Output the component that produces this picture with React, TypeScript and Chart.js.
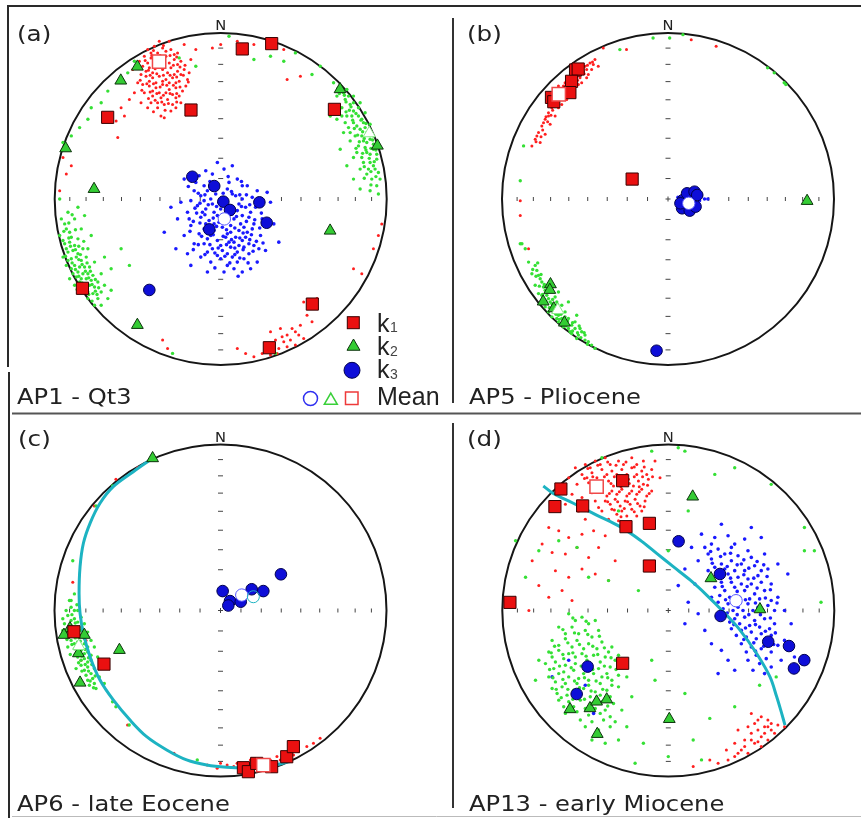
import React, { useEffect, useRef } from 'react';
import { Chart, registerables } from 'chart.js';
Chart.register(...registerables);

type Pt = [number, number];

const W = 861;
const H = 818;

// ---- equal-area net tick plunges (degrees) ----
const PLUNGE_TICKS = [80, 70, 60, 50, 40, 30, 20, 10];

// ---------------- Panel (a) AP1 - Qt3 ----------------
const aK1: Pt[] = [[0.13, 0.904], [0.307, 0.936], [-0.179, 0.536], [-0.681, 0.492], [0.685, 0.54], [-0.833, -0.538], [0.552, -0.633], [0.293, -0.896]];
const aK2: Pt[] = [[-0.502, 0.797], [-0.602, 0.713], [-0.934, 0.305], [-0.763, 0.06], [0.719, 0.661], [0.944, 0.321], [0.659, -0.191], [-0.502, -0.759]];
const aK3: Pt[] = [[-0.171, 0.134], [-0.039, 0.078], [0.016, -0.016], [0.056, -0.066], [0.233, -0.02], [0.277, -0.143], [-0.069, -0.183], [-0.43, -0.548]];
const aMean1: Pt[] = [[-0.371, 0.827]];
const aMean2: Pt[] = [[0.895, 0.396]];
const aMean3: Pt[] = [[0.022, -0.12]];
const aBlueDots: Pt[] = [
  [-0.12, 0.02], [-0.08, 0.05], [-0.03, 0.03], [0.04, 0.06], [0.09, 0.02], [0.13, 0.0],
  [-0.14, -0.04], [-0.09, -0.06], [-0.05, -0.03], [0.0, -0.06], [0.05, -0.04], [0.1, -0.07], [0.15, -0.05],
  [-0.12, -0.11], [-0.07, -0.13], [-0.02, -0.1], [0.03, -0.14], [0.08, -0.12], [0.12, -0.15], [0.17, -0.11],
  [-0.1, -0.18], [-0.04, -0.19], [0.01, -0.17], [0.06, -0.2], [0.11, -0.19], [0.16, -0.2],
  [-0.08, -0.24], [-0.02, -0.25], [0.03, -0.23], [0.08, -0.26], [0.13, -0.25],
  [-0.05, -0.3], [0.01, -0.31], [0.06, -0.29], [0.1, -0.32],
  [-0.22, 0.12], [-0.15, 0.1], [-0.05, 0.15], [0.02, 0.18], [0.1, 0.12], [0.16, 0.08], [0.22, 0.05], [0.28, 0.04],
  [-0.24, -0.02], [-0.2, -0.08], [-0.26, -0.12], [-0.18, -0.16], [-0.22, -0.22], [-0.16, -0.27], [-0.27, -0.3],
  [0.2, -0.15], [0.24, -0.22], [0.2, -0.28], [0.27, -0.31], [0.17, -0.33], [0.22, -0.38],
  [-0.12, -0.35], [-0.06, -0.38], [0.0, -0.36], [0.04, -0.4], [0.1, -0.38], [-0.18, -0.4], [0.13, -0.44],
  [-0.3, -0.05], [0.3, -0.02], [0.32, -0.15], [-0.34, -0.2], [0.35, -0.26], [-0.02, 0.22], [0.07, 0.2],
  [-0.1, 0.08], [0.05, 0.1], [-0.01, -0.02], [0.07, -0.09], [-0.04, -0.15], [0.14, -0.29], [0.04, -0.33],
  [-0.1, -0.01], [-0.06, 0.0], [0.02, 0.0], [0.07, 0.03], [0.11, -0.03], [-0.11, -0.08], [-0.04, -0.08], [0.03, -0.09],
  [0.13, -0.1], [0.18, -0.08], [-0.09, -0.15], [-0.01, -0.14], [0.06, -0.16], [0.14, -0.17], [0.19, -0.18], [-0.13, -0.21],
  [-0.06, -0.22], [0.04, -0.21], [0.09, -0.23], [0.15, -0.23], [-0.1, -0.27], [0.0, -0.28], [0.05, -0.26], [0.11, -0.28],
  [0.17, -0.27], [-0.08, -0.32], [-0.02, -0.34], [0.07, -0.35], [0.14, -0.36], [-0.16, 0.05], [-0.18, -0.01], [-0.19, -0.12],
  [0.21, -0.05], [0.25, -0.12], [0.23, -0.3], [-0.13, 0.14], [-0.09, 0.17], [0.13, 0.08], [0.19, 0.01], [-0.2, -0.33],
  [0.02, -0.44], [0.08, -0.42], [-0.08, -0.44], [0.18, -0.42]
];
const aBlueCore: Pt[] = [
  [-0.135, 0.035], [-0.095, 0.025], [-0.045, 0.055], [0.015, 0.035], [0.065, 0.045], [0.115, 0.025], [0.155, 0.025],
  [-0.125, -0.025], [-0.075, -0.035], [-0.025, -0.045], [0.025, -0.025], [0.075, -0.055], [0.125, -0.045], [0.175, -0.035],
  [-0.145, -0.085], [-0.095, -0.095], [-0.045, -0.115], [0.015, -0.115], [0.055, -0.095], [0.095, -0.105], [0.155, -0.135], [0.205, -0.125],
  [-0.125, -0.145], [-0.075, -0.165], [-0.025, -0.165], [0.035, -0.185], [0.085, -0.175], [0.135, -0.205], [0.185, -0.215],
  [-0.115, -0.225], [-0.045, -0.215], [0.015, -0.225], [0.065, -0.245], [0.115, -0.235], [0.175, -0.245], [0.215, -0.255],
  [-0.135, -0.275], [-0.065, -0.275], [-0.015, -0.295], [0.035, -0.275], [0.085, -0.295], [0.135, -0.305], [0.195, -0.315],
  [-0.095, -0.335], [-0.035, -0.325], [0.025, -0.345], [0.085, -0.335], [0.115, -0.355], [0.165, -0.385],
  [-0.155, -0.055], [-0.165, -0.135], [-0.185, -0.195], [-0.165, -0.305], [0.235, -0.175], [0.255, -0.265], [0.245, -0.085],
  [-0.065, 0.105], [0.045, 0.135], [-0.195, 0.075], [0.125, 0.105], [0.055, -0.385], [-0.035, -0.415], [0.105, -0.465]
];
const aRedDots: Pt[] = [
  [-0.44, 0.9], [-0.4, 0.92], [-0.35, 0.91], [-0.3, 0.9], [-0.26, 0.88],
  [-0.46, 0.86], [-0.42, 0.85], [-0.33, 0.86], [-0.28, 0.84], [-0.24, 0.83],
  [-0.47, 0.8], [-0.43, 0.79], [-0.39, 0.8], [-0.35, 0.78], [-0.3, 0.79], [-0.26, 0.77], [-0.22, 0.78],
  [-0.45, 0.74], [-0.41, 0.73], [-0.37, 0.74], [-0.33, 0.72], [-0.29, 0.73], [-0.25, 0.71],
  [-0.43, 0.68], [-0.39, 0.67], [-0.35, 0.69], [-0.31, 0.66], [-0.27, 0.67], [-0.23, 0.65],
  [-0.41, 0.62], [-0.36, 0.61], [-0.32, 0.6], [-0.27, 0.61], [-0.24, 0.58],
  [-0.48, 0.58], [-0.44, 0.55], [-0.38, 0.55], [-0.3, 0.53], [-0.34, 0.49],
  [-0.5, 0.7], [-0.52, 0.64], [-0.55, 0.6], [-0.2, 0.72], [-0.18, 0.84], [-0.15, 0.9], [-0.22, 0.93],
  [-0.37, 0.95], [-0.31, 0.95], [-0.49, 0.83], [-0.53, 0.78],
  [-0.42, 0.88], [-0.38, 0.88], [-0.33, 0.89], [-0.28, 0.87], [-0.44, 0.82], [-0.4, 0.82], [-0.37, 0.83], [-0.31, 0.82],
  [-0.26, 0.81], [-0.45, 0.77], [-0.41, 0.76], [-0.32, 0.76], [-0.28, 0.75], [-0.24, 0.75], [-0.43, 0.71], [-0.39, 0.7],
  [-0.35, 0.71], [-0.31, 0.7], [-0.27, 0.7], [-0.41, 0.65], [-0.37, 0.64], [-0.33, 0.64], [-0.29, 0.63], [-0.25, 0.62],
  [-0.38, 0.58], [-0.34, 0.57], [-0.29, 0.57], [-0.46, 0.64], [-0.47, 0.69], [-0.21, 0.68], [-0.19, 0.76], [-0.42, 0.58],
  [-0.36, 0.5], [-0.27, 0.55], [-0.48, 0.75],
  [-0.6, 0.55], [-0.63, 0.47], [-0.58, 0.5], [-0.95, 0.25], [-0.93, 0.15], [-0.97, 0.05], [-0.9, 0.2], [-0.62, 0.37],
  [-0.05, 0.91], [0.0, 0.93], [0.1, 0.95], [0.2, 0.93], [0.4, 0.72], [0.48, 0.74], [0.38, 0.9],
  [0.97, -0.15], [0.95, -0.22], [0.92, -0.3], [0.85, -0.45], [0.8, -0.42], [-0.35, -0.85], [-0.32, -0.9],
  [0.3, -0.8], [0.36, -0.78], [0.4, -0.82], [0.45, -0.8], [0.33, -0.85], [0.38, -0.86], [0.42, -0.85], [0.48, -0.76],
  [0.28, -0.88], [0.35, -0.9], [0.4, -0.89], [0.25, -0.93], [0.3, -0.94], [0.2, -0.95], [0.15, -0.93], [0.1, -0.9],
  [0.52, -0.7], [0.55, -0.66], [0.55, -0.74], [0.5, -0.62], [0.58, -0.6], [0.45, -0.88], [0.5, -0.84],
  [0.32, -0.9], [0.37, -0.83], [0.43, -0.78], [0.27, -0.91], [0.34, -0.93], [0.47, -0.82]
];
const aRedCore: Pt[] = [
  [-0.455, 0.835], [-0.415, 0.865], [-0.365, 0.865], [-0.305, 0.865], [-0.265, 0.855], [-0.435, 0.775], [-0.395, 0.785], [-0.345, 0.805],
  [-0.285, 0.805], [-0.245, 0.795], [-0.425, 0.745], [-0.385, 0.755], [-0.345, 0.745], [-0.305, 0.745], [-0.265, 0.735], [-0.225, 0.745],
  [-0.445, 0.695], [-0.405, 0.695], [-0.365, 0.675], [-0.325, 0.685], [-0.285, 0.685], [-0.245, 0.675], [-0.425, 0.645], [-0.385, 0.635],
  [-0.345, 0.625], [-0.305, 0.635], [-0.265, 0.635], [-0.395, 0.595], [-0.355, 0.585], [-0.315, 0.575], [-0.265, 0.585], [-0.435, 0.605],
  [-0.335, 0.535], [-0.405, 0.525], [-0.475, 0.655], [-0.485, 0.715], [-0.215, 0.805], [-0.195, 0.705], [-0.345, 0.925], [-0.405, 0.895]
];
const aGreenDots: Pt[] = [
  [0.68, 0.7], [0.72, 0.66], [0.7, 0.62], [0.75, 0.6], [0.78, 0.57], [0.73, 0.55], [0.8, 0.53], [0.76, 0.5], [0.83, 0.5],
  [0.86, 0.46], [0.8, 0.46], [0.77, 0.43], [0.84, 0.42], [0.88, 0.4], [0.81, 0.38], [0.9, 0.36], [0.86, 0.35], [0.83, 0.32],
  [0.92, 0.3], [0.88, 0.28], [0.85, 0.25], [0.9, 0.22], [0.94, 0.24], [0.93, 0.18], [0.88, 0.15], [0.96, 0.12],
  [0.82, 0.28], [0.78, 0.35], [0.74, 0.4], [0.7, 0.48], [0.66, 0.5], [0.72, 0.3], [0.76, 0.2], [0.8, 0.12], [0.84, 0.06], [0.9, 0.05], [0.95, 0.03],
  [0.87, 0.52], [0.9, 0.45], [0.92, 0.38],
  [0.74, 0.64], [0.77, 0.62], [0.8, 0.58], [0.83, 0.55], [0.79, 0.5], [0.85, 0.48], [0.82, 0.44], [0.87, 0.43], [0.9, 0.41],
  [0.85, 0.38], [0.88, 0.34], [0.92, 0.33], [0.87, 0.31], [0.9, 0.27], [0.94, 0.27], [0.86, 0.22], [0.92, 0.2], [0.89, 0.18],
  [0.95, 0.16], [0.91, 0.12], [0.94, 0.08], [0.78, 0.4], [0.75, 0.46], [0.73, 0.5], [0.84, 0.58], [0.8, 0.62], [0.76, 0.66],
  [0.84, 0.18], [0.8, 0.25],
  [-0.96, -0.12], [-0.93, -0.18], [-0.97, -0.22], [-0.9, -0.23], [-0.94, -0.27], [-0.88, -0.28], [-0.92, -0.32],
  [-0.86, -0.33], [-0.9, -0.36], [-0.84, -0.37], [-0.88, -0.4], [-0.82, -0.41], [-0.86, -0.44], [-0.8, -0.45],
  [-0.84, -0.48], [-0.78, -0.49], [-0.82, -0.52], [-0.76, -0.53], [-0.8, -0.56],
  [-0.95, -0.35], [-0.93, -0.4], [-0.89, -0.45], [-0.85, -0.53],
  [-0.8, -0.3], [-0.76, -0.38], [-0.72, -0.45], [-0.7, -0.52], [-0.66, -0.55], [-0.68, -0.6], [-0.74, -0.6],
  [-0.78, -0.22], [-0.84, -0.18], [-0.88, -0.12], [-0.92, -0.08], [-0.97, 0.0], [-0.86, -0.05], [-0.82, -0.1],
  [-0.7, -0.35], [-0.66, -0.42],
  [-0.94, -0.15], [-0.91, -0.2], [-0.95, -0.25], [-0.91, -0.26], [-0.89, -0.31], [-0.93, -0.3], [-0.87, -0.35], [-0.92, -0.37],
  [-0.85, -0.41], [-0.9, -0.42], [-0.83, -0.45], [-0.87, -0.47], [-0.81, -0.48], [-0.85, -0.5], [-0.79, -0.52], [-0.83, -0.55],
  [-0.77, -0.57], [-0.86, -0.24], [-0.83, -0.3], [-0.81, -0.35], [-0.79, -0.41], [-0.77, -0.46], [-0.74, -0.5], [-0.72, -0.56],
  [-0.91, -0.48], [-0.88, -0.52], [-0.8, -0.6], [-0.76, -0.64], [-0.72, -0.64],
  [-0.95, 0.34], [-0.9, 0.38], [-0.85, 0.43], [-0.8, 0.48], [-0.78, 0.55], [-0.72, 0.58], [-0.68, 0.65], [-0.56, 0.76], [-0.52, 0.83],
  [-0.25, 0.85], [-0.15, 0.8], [0.05, 0.98], [0.2, 0.84], [0.3, 0.86], [0.38, 0.83], [0.45, 0.88], [0.55, 0.75], [0.6, 0.8],
  [-0.29, -0.93], [0.33, -0.93], [-0.6, -0.3], [-0.55, -0.4]
];
const aGreenCore: Pt[] = [
  [0.715, 0.635], [0.755, 0.585], [0.775, 0.535], [0.815, 0.515], [0.845, 0.475], [0.805, 0.425], [0.855, 0.405], [0.865, 0.365],
  [0.895, 0.385], [0.835, 0.345], [0.875, 0.295], [0.905, 0.305], [0.855, 0.275], [0.895, 0.245], [0.925, 0.225], [0.865, 0.195],
  [0.905, 0.165], [0.935, 0.135], [0.865, 0.125], [0.905, 0.085], [0.795, 0.475], [0.755, 0.525], [0.825, 0.385], [0.815, 0.305],
  [0.785, 0.555], [0.745, 0.625], [0.705, 0.665], [0.875, 0.455], [0.915, 0.355], [0.935, 0.295],
  [-0.945, -0.195], [-0.915, -0.235], [-0.905, -0.285], [-0.935, -0.345], [-0.875, -0.305], [-0.895, -0.385], [-0.855, -0.365],
  [-0.875, -0.425], [-0.835, -0.395], [-0.855, -0.465], [-0.815, -0.435], [-0.835, -0.505], [-0.795, -0.475], [-0.815, -0.535],
  [-0.775, -0.515], [-0.795, -0.575], [-0.755, -0.555], [-0.855, -0.285], [-0.825, -0.255], [-0.845, -0.335], [-0.805, -0.385],
  [-0.785, -0.435], [-0.755, -0.485], [-0.735, -0.535], [-0.915, -0.145], [-0.895, -0.095], [-0.865, -0.545], [-0.775, -0.615],
  [-0.745, -0.575], [-0.875, -0.185]
];

// ---------------- Panel (b) AP5 - Pliocene ----------------
const bK1: Pt[] = [[-0.557, 0.777], [-0.541, 0.783], [-0.581, 0.709], [-0.591, 0.641], [-0.702, 0.612], [-0.688, 0.586], [-0.216, 0.12]];
const bK2: Pt[] = [[-0.708, -0.514], [-0.712, -0.548], [-0.752, -0.618], [-0.688, -0.659], [-0.624, -0.745], [0.838, -0.012]];
const bK3: Pt[] = [[0.091, -0.006], [0.115, 0.034], [0.16, 0.044], [0.176, 0.024], [0.085, -0.056], [0.131, -0.07], [0.166, -0.046], [0.075, -0.026], [-0.069, -0.914]];
const bMean1: Pt[] = [[-0.658, 0.631]];
const bMean2: Pt[] = [[-0.664, -0.669]];
const bMean3: Pt[] = [[0.125, -0.026]];
const bRedDots: Pt[] = [
  [-0.44, 0.84], [-0.47, 0.82], [-0.5, 0.8], [-0.46, 0.78], [-0.52, 0.76], [-0.55, 0.74], [-0.49, 0.73], [-0.58, 0.71],
  [-0.54, 0.69], [-0.6, 0.67], [-0.63, 0.66], [-0.57, 0.65], [-0.65, 0.62], [-0.61, 0.6], [-0.68, 0.58], [-0.7, 0.55],
  [-0.66, 0.55], [-0.72, 0.52], [-0.68, 0.5], [-0.74, 0.48], [-0.71, 0.45], [-0.76, 0.44], [-0.78, 0.4], [-0.74, 0.39],
  [-0.8, 0.36], [-0.77, 0.34], [-0.82, 0.32], [-0.62, 0.7], [-0.66, 0.68], [-0.7, 0.63], [-0.73, 0.6], [-0.56, 0.78],
  [-0.52, 0.7], [-0.48, 0.75], [-0.42, 0.8], [-0.64, 0.57], [-0.6, 0.63],
  [-0.45, 0.81], [-0.49, 0.78], [-0.53, 0.73], [-0.56, 0.71], [-0.59, 0.69], [-0.62, 0.63], [-0.66, 0.6], [-0.69, 0.56],
  [-0.72, 0.5], [-0.75, 0.46], [-0.63, 0.68], [-0.67, 0.64], [-0.58, 0.67], [-0.51, 0.77], [-0.79, 0.38],
  [-0.455, 0.825], [-0.485, 0.805], [-0.515, 0.785], [-0.505, 0.755], [-0.535, 0.745], [-0.545, 0.715], [-0.575, 0.685],
  [-0.605, 0.655], [-0.625, 0.645], [-0.645, 0.605], [-0.675, 0.585], [-0.695, 0.535], [-0.705, 0.505], [-0.735, 0.495],
  [-0.725, 0.465], [-0.755, 0.415], [-0.765, 0.375], [-0.795, 0.345], [-0.615, 0.685], [-0.565, 0.755],
  [-0.89, -0.01], [-0.89, -0.1], [-0.39, 0.91], [-0.25, 0.9], [0.14, 0.96], [0.29, 0.92], [-0.84, -0.3]
];
const bGreenDots: Pt[] = [
  [-0.8, -0.4], [-0.82, -0.45], [-0.78, -0.46], [-0.76, -0.5], [-0.8, -0.52], [-0.74, -0.55], [-0.78, -0.57], [-0.72, -0.6],
  [-0.76, -0.61], [-0.7, -0.63], [-0.74, -0.65], [-0.68, -0.66], [-0.72, -0.68], [-0.66, -0.7], [-0.7, -0.71], [-0.64, -0.72],
  [-0.62, -0.75], [-0.66, -0.74], [-0.6, -0.78], [-0.56, -0.78], [-0.58, -0.81], [-0.54, -0.82], [-0.5, -0.85], [-0.46, -0.88],
  [-0.64, -0.64], [-0.68, -0.59], [-0.62, -0.68], [-0.6, -0.72], [-0.56, -0.74], [-0.52, -0.8], [-0.66, -0.56], [-0.7, -0.53],
  [-0.84, -0.38], [-0.86, -0.3], [-0.88, -0.27], [-0.6, -0.62], [-0.55, -0.7],
  [-0.79, -0.43], [-0.77, -0.48], [-0.75, -0.53], [-0.73, -0.58], [-0.71, -0.62], [-0.69, -0.68], [-0.67, -0.72], [-0.63, -0.77],
  [-0.59, -0.8], [-0.55, -0.84], [-0.67, -0.62], [-0.65, -0.67], [-0.62, -0.71], [-0.58, -0.76], [-0.53, -0.78], [-0.5, -0.82],
  [-0.48, -0.86], [-0.44, -0.9], [-0.72, -0.55], [-0.76, -0.58],
  [-0.815, -0.425], [-0.795, -0.465], [-0.775, -0.525], [-0.755, -0.575], [-0.735, -0.615], [-0.715, -0.655], [-0.695, -0.645],
  [-0.675, -0.695], [-0.655, -0.725], [-0.635, -0.745], [-0.615, -0.765], [-0.575, -0.795], [-0.545, -0.805], [-0.525, -0.835],
  [-0.485, -0.875], [-0.695, -0.605], [-0.665, -0.635], [-0.645, -0.695], [-0.605, -0.735], [-0.575, -0.745], [-0.535, -0.765],
  [-0.505, -0.805], [-0.745, -0.515], [-0.765, -0.455], [-0.785, -0.385],
  [-0.09, 0.97], [0.01, 0.97], [0.09, 0.99], [0.6, 0.79], [0.64, 0.76], [0.7, 0.7], [0.71, 0.69],
  [-0.87, 0.32], [-0.89, 0.11], [-0.89, -0.27], [-0.29, 0.9]
];
const bBlueDots: Pt[] = [[0.22, 0.0], [0.24, 0.0], [0.2, 0.02], [0.06, 0.01], [0.19, -0.01]];

// ---------------- Panel (c) AP6 - late Eocene ----------------
const cK1: Pt[] = [[-0.883, -0.128], [-0.702, -0.323], [0.138, -0.947], [0.168, -0.971], [0.218, -0.921], [0.308, -0.941], [0.399, -0.881], [0.439, -0.82]];
const cK2: Pt[] = [[-0.409, 0.917], [-0.907, -0.107], [-0.943, -0.147], [-0.82, -0.147], [-0.856, -0.258], [-0.609, -0.238], [-0.846, -0.435]];
const cK3: Pt[] = [[0.013, 0.117], [0.057, 0.057], [0.047, 0.03], [0.122, 0.053], [0.188, 0.128], [0.258, 0.117], [0.364, 0.218]];
const cMean1: Pt[] = [[0.258, -0.931]];
const cMean2: Pt[] = [[-0.854, -0.214]];
const cMean3: Pt[] = [[0.128, 0.093]];
const cPole: Pt[] = [[0.198, 0.083]];
const cGreatCircle: Pt[] = [
  [-0.409, 0.917], [-0.525, 0.836], [-0.646, 0.746], [-0.726, 0.646], [-0.786, 0.525], [-0.826, 0.405],
  [-0.846, 0.264], [-0.852, 0.103], [-0.846, -0.017], [-0.826, -0.138], [-0.786, -0.278], [-0.726, -0.419],
  [-0.646, -0.539], [-0.545, -0.66], [-0.445, -0.76], [-0.324, -0.84], [-0.204, -0.9], [-0.083, -0.931],
  [0.037, -0.945], [0.158, -0.949], [0.278, -0.941], [0.419, -0.91]
];
const cGreenDots: Pt[] = [
  [-0.9, 0.02], [-0.86, 0.0], [-0.92, -0.03], [-0.88, -0.05], [-0.84, -0.04], [-0.94, -0.08], [-0.9, -0.09], [-0.86, -0.1],
  [-0.82, -0.08], [-0.92, -0.13], [-0.88, -0.14], [-0.84, -0.15], [-0.8, -0.13], [-0.9, -0.18], [-0.86, -0.19], [-0.82, -0.2],
  [-0.78, -0.18], [-0.88, -0.23], [-0.84, -0.24], [-0.8, -0.25], [-0.86, -0.28], [-0.82, -0.29], [-0.78, -0.3], [-0.84, -0.33],
  [-0.8, -0.34], [-0.76, -0.35], [-0.81, -0.39], [-0.77, -0.41], [-0.79, -0.45], [-0.75, -0.47], [-0.87, -0.35], [-0.95, -0.12],
  [-0.91, 0.06], [-0.88, 0.1], [-0.76, -0.22], [-0.74, -0.28], [-0.73, -0.4], [-0.7, -0.44],
  [-0.88, 0.0], [-0.9, -0.06], [-0.86, -0.07], [-0.88, -0.11], [-0.84, -0.12], [-0.9, -0.15], [-0.86, -0.16], [-0.82, -0.17],
  [-0.88, -0.2], [-0.84, -0.21], [-0.8, -0.22], [-0.86, -0.25], [-0.82, -0.26], [-0.78, -0.27], [-0.84, -0.3], [-0.8, -0.31],
  [-0.82, -0.36], [-0.78, -0.38], [-0.8, -0.42], [-0.76, -0.44], [-0.92, -0.22], [-0.93, 0.0], [-0.95, -0.05],
  [-0.895, -0.025], [-0.875, -0.075], [-0.905, -0.115], [-0.865, -0.135], [-0.835, -0.105], [-0.875, -0.165], [-0.845, -0.185],
  [-0.815, -0.155], [-0.895, -0.205], [-0.855, -0.225], [-0.815, -0.235], [-0.875, -0.265], [-0.835, -0.275], [-0.795, -0.285],
  [-0.855, -0.315], [-0.815, -0.325], [-0.775, -0.325], [-0.835, -0.365], [-0.795, -0.365], [-0.755, -0.395], [-0.785, -0.425],
  [-0.765, -0.465], [-0.905, -0.265], [-0.925, -0.175], [-0.865, 0.035],
  [-0.89, 0.3], [-0.9, 0.06], [-0.75, 0.63], [-0.65, 0.75], [-0.63, -0.58], [-0.65, -0.55], [-0.55, -0.69], [-0.14, -0.9]
];
const cRedDots: Pt[] = [
  [0.04, -0.93], [0.08, -0.94], [0.12, -0.92], [0.16, -0.94], [0.2, -0.93], [0.24, -0.92], [0.28, -0.93], [0.32, -0.92],
  [0.36, -0.9], [0.4, -0.89], [0.44, -0.87], [0.47, -0.85], [0.52, -0.82], [0.56, -0.8], [0.6, -0.77], [0.26, -0.9],
  [0.18, -0.9], [0.34, -0.88], [0.0, -0.92], [-0.02, -0.95], [0.22, -0.95], [0.3, -0.9], [0.38, -0.87], [0.1, -0.92],
  [-0.89, 0.17], [-0.56, -0.69], [-0.28, -0.86], [-0.08, -0.93], [-0.63, 0.79], [-0.5, 0.86], [-0.76, 0.63], [-0.84, -0.3], [-0.81, -0.18]
];

// ---------------- Panel (d) AP13 - early Miocene ----------------
const dK1: Pt[] = [[-0.647, 0.732], [-0.683, 0.626], [-0.516, 0.63], [-0.275, 0.782], [-0.255, 0.505], [-0.114, 0.525], [-0.114, 0.268], [-0.954, 0.049], [-0.275, -0.318]];
const dK2: Pt[] = [[0.147, 0.686], [0.257, 0.194], [0.552, 0.007], [-0.592, -0.595], [-0.472, -0.589], [-0.432, -0.549], [-0.371, -0.536], [-0.428, -0.744], [0.006, -0.654]];
const dK3: Pt[] = [[0.062, 0.417], [0.311, 0.22], [0.315, -0.033], [0.602, -0.188], [0.727, -0.214], [0.819, -0.299], [0.757, -0.349], [-0.486, -0.338], [-0.552, -0.503]];
const dMean1: Pt[] = [[-0.432, 0.746]];
const dMean3: Pt[] = [[0.408, 0.059]];
const dGreatCircle: Pt[] = [
  [-0.753, 0.75], [-0.693, 0.705], [-0.572, 0.646], [-0.432, 0.575], [-0.291, 0.505], [-0.171, 0.425],
  [-0.07, 0.344], [0.03, 0.264], [0.131, 0.184], [0.231, 0.093], [0.331, -0.007], [0.432, -0.118],
  [0.532, -0.259], [0.612, -0.399], [0.653, -0.52], [0.683, -0.62], [0.703, -0.69]
];
const dRedDots: Pt[] = [
  [-0.5, 0.88], [-0.44, 0.9], [-0.38, 0.92], [-0.3, 0.9], [-0.22, 0.92], [-0.15, 0.9],
  [-0.52, 0.82], [-0.46, 0.83], [-0.4, 0.85], [-0.34, 0.84], [-0.28, 0.85], [-0.22, 0.86], [-0.16, 0.84], [-0.1, 0.85],
  [-0.55, 0.76], [-0.48, 0.77], [-0.36, 0.78], [-0.3, 0.79], [-0.24, 0.79], [-0.18, 0.78], [-0.12, 0.79],
  [-0.46, 0.71], [-0.4, 0.72], [-0.34, 0.72], [-0.28, 0.73], [-0.22, 0.72], [-0.16, 0.73], [-0.1, 0.72],
  [-0.44, 0.66], [-0.38, 0.66], [-0.32, 0.67], [-0.26, 0.66], [-0.2, 0.67], [-0.14, 0.66],
  [-0.4, 0.6], [-0.34, 0.61], [-0.28, 0.6], [-0.22, 0.61], [-0.16, 0.6],
  [-0.36, 0.55], [-0.3, 0.54], [-0.6, 0.8], [-0.58, 0.7], [-0.62, 0.64], [-0.54, 0.6], [-0.5, 0.55], [-0.08, 0.9], [-0.05, 0.8],
  [-0.47, 0.86], [-0.41, 0.88], [-0.35, 0.88], [-0.27, 0.88], [-0.19, 0.88], [-0.49, 0.8], [-0.43, 0.8], [-0.37, 0.82],
  [-0.31, 0.82], [-0.25, 0.82], [-0.19, 0.82], [-0.13, 0.82], [-0.33, 0.75], [-0.27, 0.76], [-0.21, 0.75], [-0.15, 0.76],
  [-0.43, 0.74], [-0.37, 0.69], [-0.31, 0.7], [-0.25, 0.69], [-0.19, 0.7], [-0.13, 0.69], [-0.35, 0.64], [-0.29, 0.63],
  [-0.23, 0.64], [-0.17, 0.63], [-0.31, 0.58], [-0.25, 0.57], [-0.19, 0.57], [-0.42, 0.62], [-0.48, 0.6], [-0.52, 0.68], [-0.56, 0.86],
  [-0.485, 0.855], [-0.425, 0.875], [-0.365, 0.895], [-0.315, 0.875], [-0.255, 0.895], [-0.205, 0.865], [-0.145, 0.865],
  [-0.505, 0.795], [-0.455, 0.805], [-0.385, 0.805], [-0.325, 0.805], [-0.265, 0.805], [-0.205, 0.805], [-0.155, 0.805],
  [-0.095, 0.805], [-0.345, 0.765], [-0.285, 0.745], [-0.235, 0.765], [-0.175, 0.745], [-0.125, 0.755], [-0.415, 0.745],
  [-0.355, 0.705], [-0.295, 0.715], [-0.235, 0.705], [-0.175, 0.715], [-0.115, 0.705], [-0.365, 0.655], [-0.305, 0.655],
  [-0.245, 0.655], [-0.185, 0.645], [-0.325, 0.605], [-0.265, 0.615], [-0.205, 0.595], [-0.145, 0.625], [-0.285, 0.565],
  [-0.72, 0.5], [-0.66, 0.48], [-0.6, 0.44], [-0.52, 0.46], [-0.45, 0.48], [-0.38, 0.45], [-0.76, 0.4], [-0.7, 0.35],
  [-0.62, 0.34], [-0.55, 0.38], [-0.48, 0.32], [-0.42, 0.38], [-0.68, 0.24], [-0.6, 0.2], [-0.52, 0.25], [-0.44, 0.22],
  [-0.36, 0.18], [-0.78, 0.15], [-0.72, 0.08], [-0.64, 0.12], [-0.58, 0.06], [-0.84, 0.0], [-0.32, 0.3], [-0.82, 0.3],
  [0.5, -0.62], [0.56, -0.64], [0.6, -0.66], [0.52, -0.68], [0.58, -0.7], [0.62, -0.72], [0.5, -0.74], [0.56, -0.76],
  [0.6, -0.78], [0.64, -0.74], [0.46, -0.78], [0.52, -0.8], [0.56, -0.82], [0.44, -0.84], [0.48, -0.86], [0.4, -0.88],
  [0.36, -0.9], [0.3, -0.92], [0.42, -0.72], [0.4, -0.8], [0.66, -0.69], [0.7, -0.7], [0.35, -0.84], [0.25, -0.9], [0.15, -0.94],
  [0.54, -0.66], [0.58, -0.74], [0.54, -0.72], [0.48, -0.7], [0.5, -0.78], [0.54, -0.79], [0.46, -0.82], [0.42, -0.86], [0.62, -0.68], [0.6, -0.7]
];
const dBlueDots: Pt[] = [
  [0.2, 0.46], [0.28, 0.44], [0.36, 0.45], [0.46, 0.43], [0.56, 0.44],
  [0.14, 0.38], [0.22, 0.38], [0.3, 0.37], [0.38, 0.38], [0.48, 0.36], [0.58, 0.34],
  [0.18, 0.3], [0.26, 0.31], [0.32, 0.28], [0.38, 0.3], [0.44, 0.28], [0.52, 0.27], [0.6, 0.25],
  [0.24, 0.24], [0.3, 0.2], [0.36, 0.22], [0.42, 0.2], [0.48, 0.19], [0.54, 0.21], [0.62, 0.16],
  [0.28, 0.14], [0.34, 0.12], [0.4, 0.14], [0.46, 0.12], [0.52, 0.1], [0.58, 0.12], [0.66, 0.08],
  [0.3, 0.05], [0.36, 0.04], [0.42, 0.02], [0.48, 0.04], [0.54, 0.02], [0.6, 0.03], [0.7, 0.0],
  [0.34, -0.03], [0.4, -0.05], [0.46, -0.04], [0.52, -0.06], [0.58, -0.05], [0.64, -0.08],
  [0.38, -0.11], [0.44, -0.12], [0.5, -0.13], [0.56, -0.14], [0.62, -0.15], [0.7, -0.18],
  [0.44, -0.2], [0.5, -0.22], [0.56, -0.23], [0.62, -0.25], [0.48, -0.3], [0.55, -0.32], [0.62, -0.34],
  [0.24, 0.34], [0.34, 0.34], [0.42, 0.33], [0.5, 0.32], [0.28, 0.26], [0.34, 0.25], [0.4, 0.24], [0.46, 0.24], [0.56, 0.24],
  [0.32, 0.17], [0.38, 0.17], [0.44, 0.16], [0.5, 0.16], [0.56, 0.17], [0.31, 0.09], [0.37, 0.08], [0.43, 0.08], [0.49, 0.07],
  [0.55, 0.07], [0.62, 0.06], [0.33, 0.01], [0.39, 0.0], [0.45, 0.0], [0.51, 0.0], [0.57, 0.0], [0.64, 0.0], [0.37, -0.07],
  [0.43, -0.08], [0.49, -0.09], [0.55, -0.1], [0.61, -0.11], [0.41, -0.15], [0.47, -0.16], [0.53, -0.17], [0.59, -0.19],
  [0.66, -0.21], [0.47, -0.25], [0.53, -0.27], [0.59, -0.29], [0.51, -0.36], [0.58, -0.38], [0.68, -0.3], [0.4, 0.4], [0.26, 0.4],
  [0.255, 0.355], [0.315, 0.325], [0.375, 0.345], [0.455, 0.305], [0.535, 0.295], [0.265, 0.285], [0.355, 0.265], [0.415, 0.275],
  [0.485, 0.255], [0.575, 0.275], [0.305, 0.225], [0.375, 0.195], [0.455, 0.215], [0.515, 0.195], [0.595, 0.205], [0.325, 0.145],
  [0.415, 0.115], [0.475, 0.145], [0.535, 0.135], [0.615, 0.125], [0.345, 0.065], [0.465, 0.065], [0.525, 0.045], [0.585, 0.075],
  [0.655, 0.045], [0.355, -0.015], [0.415, -0.025], [0.485, -0.025], [0.555, -0.025], [0.615, -0.045], [0.395, -0.085], [0.465, -0.105],
  [0.525, -0.085], [0.585, -0.125], [0.645, -0.135], [0.455, -0.175], [0.515, -0.195], [0.575, -0.215], [0.635, -0.205], [0.525, -0.245],
  [0.1, 0.25], [0.06, 0.15], [0.12, 0.05], [0.18, -0.02], [0.1, -0.08], [0.22, -0.12], [0.26, -0.2], [0.32, -0.24],
  [0.36, -0.3], [0.3, -0.38], [0.4, -0.36], [0.66, 0.28], [0.72, 0.22], [0.74, -0.08], [0.76, -0.28], [0.5, 0.5],
  [0.32, 0.52], [0.26, 0.08], [0.16, 0.16],
  [-0.6, -0.3], [-0.5, -0.45], [-0.7, -0.4], [-0.45, -0.62]
];
const dGreenDots: Pt[] = [
  [-0.6, -0.02], [-0.52, -0.04], [-0.44, -0.06], [-0.66, -0.1], [-0.58, -0.1], [-0.5, -0.12], [-0.42, -0.12],
  [-0.7, -0.18], [-0.62, -0.17], [-0.55, -0.18], [-0.48, -0.2], [-0.4, -0.19], [-0.34, -0.22],
  [-0.72, -0.25], [-0.66, -0.24], [-0.6, -0.26], [-0.52, -0.26], [-0.45, -0.27], [-0.38, -0.28], [-0.3, -0.27],
  [-0.74, -0.32], [-0.68, -0.31], [-0.62, -0.33], [-0.56, -0.32], [-0.48, -0.34], [-0.42, -0.35], [-0.35, -0.34], [-0.28, -0.33],
  [-0.72, -0.4], [-0.66, -0.38], [-0.6, -0.4], [-0.54, -0.41], [-0.48, -0.42], [-0.4, -0.4], [-0.34, -0.42],
  [-0.7, -0.47], [-0.64, -0.46], [-0.57, -0.48], [-0.51, -0.47], [-0.44, -0.49], [-0.37, -0.48], [-0.3, -0.46],
  [-0.66, -0.54], [-0.6, -0.55], [-0.53, -0.54], [-0.46, -0.56], [-0.4, -0.55], [-0.33, -0.56],
  [-0.62, -0.62], [-0.55, -0.61], [-0.48, -0.63], [-0.41, -0.62], [-0.35, -0.64], [-0.28, -0.6],
  [-0.5, -0.7], [-0.42, -0.72], [-0.35, -0.7], [-0.46, -0.78], [-0.38, -0.8],
  [-0.78, -0.3], [-0.8, -0.42], [-0.25, -0.4], [-0.22, -0.52], [-0.25, -0.7], [-0.3, -0.78],
  [-0.56, -0.06], [-0.48, -0.08], [-0.62, -0.14], [-0.54, -0.14], [-0.46, -0.16], [-0.66, -0.21], [-0.58, -0.22], [-0.51, -0.23],
  [-0.43, -0.23], [-0.36, -0.25], [-0.7, -0.28], [-0.63, -0.29], [-0.56, -0.28], [-0.49, -0.3], [-0.41, -0.31], [-0.32, -0.3],
  [-0.69, -0.35], [-0.63, -0.37], [-0.57, -0.36], [-0.51, -0.38], [-0.45, -0.38], [-0.37, -0.38], [-0.3, -0.39], [-0.68, -0.43],
  [-0.62, -0.44], [-0.55, -0.44], [-0.48, -0.45], [-0.41, -0.44], [-0.34, -0.45], [-0.67, -0.5], [-0.61, -0.51], [-0.54, -0.51],
  [-0.47, -0.52], [-0.41, -0.51], [-0.35, -0.52], [-0.63, -0.58], [-0.57, -0.58], [-0.5, -0.59], [-0.44, -0.59], [-0.38, -0.6],
  [-0.53, -0.66], [-0.46, -0.67], [-0.39, -0.66], [-0.32, -0.67],
  [-0.575, -0.045], [-0.495, -0.065], [-0.635, -0.115], [-0.565, -0.135], [-0.485, -0.145], [-0.415, -0.155], [-0.685, -0.215],
  [-0.605, -0.195], [-0.535, -0.205], [-0.455, -0.215], [-0.385, -0.225], [-0.705, -0.255], [-0.635, -0.265], [-0.575, -0.255],
  [-0.495, -0.275], [-0.425, -0.265], [-0.345, -0.285], [-0.715, -0.355], [-0.655, -0.335], [-0.585, -0.345], [-0.525, -0.335],
  [-0.455, -0.355], [-0.385, -0.335], [-0.315, -0.355], [-0.695, -0.405], [-0.635, -0.415], [-0.565, -0.425], [-0.505, -0.405],
  [-0.435, -0.425], [-0.365, -0.405], [-0.675, -0.475], [-0.605, -0.475], [-0.535, -0.465], [-0.465, -0.485], [-0.395, -0.475],
  [-0.645, -0.525], [-0.575, -0.535], [-0.505, -0.535], [-0.425, -0.535], [-0.365, -0.575],
  [0.06, 0.98], [0.1, 0.96], [-0.1, 0.96], [0.28, 0.82], [0.4, 0.86], [0.62, 0.76], [0.82, 0.5], [0.88, 0.36],
  [0.92, 0.05], [0.82, 0.36], [-0.92, 0.42], [-0.78, 0.36], [-0.66, 0.42], [-0.48, 0.2], [-0.36, 0.18], [-0.86, 0.2],
  [0.0, 0.36], [-0.18, 0.12], [-0.1, -0.3], [-0.08, -0.42], [0.1, -0.5], [0.25, -0.65], [0.4, -0.58], [0.55, -0.45],
  [0.65, -0.4], [0.78, -0.34], [-0.15, -0.8], [0.0, -0.88], [0.15, -0.78], [-0.2, -0.92], [0.2, -0.9], [-0.55, 0.38],
  [-0.3, 0.6], [0.12, 0.6], [-0.4, 0.92]
];

// ---------------- texts ----------------
const PANEL_LABELS = ['(a)', '(b)', '(c)', '(d)'];
const PANEL_TITLES = ['AP1 - Qt3', 'AP5 - Pliocene', 'AP6 - late Eocene', 'AP13 - early Miocene'];
const LEGEND_LABELS = ['k', 'k', 'k', 'Mean'];
const LEGEND_SUBS = ['1', '2', '3', ''];

// ---------------- styles ----------------
const DOT_RED = '#ff1f1f';
const DOT_GREEN = '#35e035';
const DOT_BLUE = '#1a1aff';
const SQ_FILL = '#ea1010';
const SQ_EDGE = '#3a0000';
const TRI_FILL = '#34cc34';
const TRI_EDGE = '#0c330c';
const CIR_FILL = '#0e0ed8';
const CIR_EDGE = '#000050';
const CYAN = '#1db3c2';
const LABEL_FONT = '"DejaVu Sans", Verdana, sans-serif';
const LEGEND_FONT = '"Liberation Sans", Arial, sans-serif';

interface PanelCfg {
  idx: number;
  cx: number;
  cy: number;
  labelX: number;
  labelY: number;
  titleX: number;
  titleY: number;
  k1: Pt[]; k2: Pt[]; k3: Pt[];
  m1?: Pt[]; m2?: Pt[]; m3?: Pt[];
  red: Pt[]; green: Pt[]; blue: Pt[];
  gc?: Pt[];
  pole?: Pt[];
  legend?: boolean;
  frame?: boolean;
}

const R = 166;

const PANELS: PanelCfg[] = [
  { idx: 0, cx: 220.7, cy: 199, labelX: 17, labelY: 40.5, titleX: 17, titleY: 403.5, k1: aK1, k2: aK2, k3: aK3, m1: aMean1, m2: aMean2, m3: aMean3, red: aRedDots.concat(aRedCore), green: aGreenDots.concat(aGreenCore), blue: aBlueDots.concat(aBlueCore), legend: true, frame: true },
  { idx: 1, cx: 668, cy: 199, labelX: 467, labelY: 40.5, titleX: 469, titleY: 404, k1: bK1, k2: bK2, k3: bK3, m1: bMean1, m2: bMean2, m3: bMean3, red: bRedDots, green: bGreenDots, blue: bBlueDots },
  { idx: 2, cx: 220.5, cy: 610.5, labelX: 18, labelY: 446, titleX: 17, titleY: 810.5, k1: cK1, k2: cK2, k3: cK3, m1: cMean1, m2: cMean2, m3: cMean3, red: cRedDots, green: cGreenDots, blue: [], gc: cGreatCircle, pole: cPole },
  { idx: 3, cx: 668.3, cy: 610.5, labelX: 467, labelY: 446, titleX: 469, titleY: 810.5, k1: dK1, k2: dK2, k3: dK3, m1: dMean1, m3: dMean3, red: dRedDots, green: dGreenDots, blue: dBlueDots, gc: dGreatCircle },
];

const toXY = (a: Pt[]) => a.map(([x, y]) => ({ x, y }));

function eqAreaRadius(plunge: number) {
  return Math.SQRT2 * Math.sin(((90 - plunge) / 2) * Math.PI / 180);
}

function stretchText(ctx: CanvasRenderingContext2D, text: string, x: number, y: number, font: string, sx: number, color: string, align: CanvasTextAlign = 'left') {
  ctx.save();
  ctx.font = font;
  ctx.fillStyle = color;
  ctx.textBaseline = 'alphabetic';
  ctx.textAlign = align;
  ctx.translate(x, y);
  ctx.scale(sx, 1);
  ctx.fillText(text, 0, 0);
  ctx.restore();
}

function seg(ctx: CanvasRenderingContext2D, x1: number, y1: number, x2: number, y2: number) {
  ctx.beginPath();
  ctx.moveTo(x1, y1);
  ctx.lineTo(x2, y2);
  ctx.stroke();
}

function triPath(ctx: CanvasRenderingContext2D, x: number, y: number, r: number) {
  ctx.beginPath();
  for (let i = 0; i < 3; i++) {
    const a = (i * 2 * Math.PI) / 3;
    const px = x + Math.sin(a) * r;
    const py = y - Math.cos(a) * r;
    if (i === 0) ctx.moveTo(px, py); else ctx.lineTo(px, py);
  }
  ctx.closePath();
}

function makePlugin(p: PanelCfg) {
  return {
    id: 'stereo' + p.idx,
    beforeDatasetsDraw(chart: any) {
      const ctx: CanvasRenderingContext2D = chart.ctx;
      const xs = chart.scales.x;
      const ys = chart.scales.y;
      const cx = xs.getPixelForValue(0);
      const cy = ys.getPixelForValue(0);
      const rad = xs.getPixelForValue(1) - cx;
      ctx.save();
      ctx.strokeStyle = '#444';
      ctx.lineWidth = 1;
      for (const pl of PLUNGE_TICKS) {
        const r = eqAreaRadius(pl) * rad;
        for (const s of [-1, 1]) {
          seg(ctx, cx + s * r, cy - 2, cx + s * r, cy + 2);
          seg(ctx, cx - 2.5, cy + s * r, cx + 2.5, cy + s * r);
        }
      }
      seg(ctx, cx - 2.5, cy, cx + 2.5, cy);
      seg(ctx, cx, cy - 2.5, cx, cy + 2.5);
      ctx.beginPath();
      ctx.arc(cx, cy, rad, 0, Math.PI * 2);
      ctx.lineWidth = 2;
      ctx.strokeStyle = '#161616';
      ctx.stroke();
      ctx.restore();
    },
    afterDraw(chart: any) {
      const ctx: CanvasRenderingContext2D = chart.ctx;
      const xs = chart.scales.x;
      const ys = chart.scales.y;
      const cx = xs.getPixelForValue(0);
      const top = ys.getPixelForValue(1);
      stretchText(ctx, 'N', cx, top - 3, `14px ${LABEL_FONT}`, 1.05, '#222', 'center');
      stretchText(ctx, PANEL_LABELS[p.idx], p.labelX, p.labelY, `22px ${LABEL_FONT}`, 1.12, '#222');
      stretchText(ctx, PANEL_TITLES[p.idx], p.titleX, p.titleY, `22px ${LABEL_FONT}`, 1.1, '#222');

      if (p.legend) {
        ctx.save();
        ctx.fillStyle = SQ_FILL; ctx.strokeStyle = SQ_EDGE; ctx.lineWidth = 1;
        ctx.fillRect(347.3, 316.7, 12, 12); ctx.strokeRect(347.3, 316.7, 12, 12);
        ctx.fillStyle = TRI_FILL; ctx.strokeStyle = TRI_EDGE;
        triPath(ctx, 353.5, 346.5, 7.5); ctx.fill(); ctx.stroke();
        ctx.fillStyle = CIR_FILL; ctx.strokeStyle = CIR_EDGE;
        ctx.beginPath(); ctx.arc(352, 370.3, 8, 0, Math.PI * 2); ctx.fill(); ctx.stroke();
        ctx.lineWidth = 1.5;
        ctx.strokeStyle = '#3030f0';
        ctx.beginPath(); ctx.arc(310.5, 398.5, 7, 0, Math.PI * 2); ctx.stroke();
        ctx.strokeStyle = '#3ad03a';
        triPath(ctx, 330.8, 400.5, 7.5); ctx.stroke();
        ctx.strokeStyle = '#ee3a3a';
        ctx.strokeRect(345.5, 392, 12.5, 12.5);
        ctx.restore();
        const ys2 = [331.7, 355, 378.3, 405];
        LEGEND_LABELS.forEach((t, i) => {
          ctx.save();
          ctx.font = `25px ${LEGEND_FONT}`;
          ctx.fillStyle = '#222';
          ctx.textBaseline = 'alphabetic';
          ctx.fillText(t, 377, ys2[i]);
          const w = ctx.measureText(t).width;
          if (LEGEND_SUBS[i]) {
            ctx.font = `14px ${LEGEND_FONT}`;
            ctx.fillStyle = '#444';
            ctx.fillText(LEGEND_SUBS[i], 377 + w + 0.5, ys2[i] + 0.5);
          }
          ctx.restore();
        });
      }

      if (p.frame) {
        ctx.save();
        ctx.strokeStyle = '#2a2a2a';
        ctx.lineWidth = 2;
        seg(ctx, 8, 6, W, 6);
        seg(ctx, 8, 5, 8, 367);
        seg(ctx, 9, 372, 9, H);
        ctx.strokeStyle = '#555';
        seg(ctx, 12, 413.5, W, 413.5);
        ctx.strokeStyle = '#333';
        seg(ctx, 453, 18, 453, 403);
        seg(ctx, 453, 423, 453, 808);
        ctx.strokeStyle = '#bbb';
        ctx.lineWidth = 1;
        seg(ctx, 12, 816.5, W, 816.5);
        ctx.restore();
      }
    },
  };
}

function buildConfig(p: PanelCfg): any {
  const dots = (pts: Pt[], color: string, r: number) => ({
    data: toXY(pts), showLine: false, pointRadius: r, pointBackgroundColor: color, pointBorderWidth: 0, order: 6, clip: false,
  });
  const datasets: any[] = [
    dots(p.green, DOT_GREEN, 1.7),
    dots(p.red, DOT_RED, 1.5),
    dots(p.blue, DOT_BLUE, 1.8),
  ];
  if (p.gc) {
    datasets.push({ data: toXY(p.gc), showLine: true, borderColor: CYAN, borderWidth: 3, pointRadius: 0, tension: 0.35, fill: false, order: 5, clip: false });
  }
  datasets.push({ data: toXY(p.k2), pointStyle: 'triangle', pointRadius: 6.8, pointBackgroundColor: TRI_FILL, pointBorderColor: TRI_EDGE, pointBorderWidth: 1, order: 4, clip: false });
  datasets.push({ data: toXY(p.k1), pointStyle: 'rect', pointRadius: 8.6, pointBackgroundColor: SQ_FILL, pointBorderColor: SQ_EDGE, pointBorderWidth: 1, order: 3, clip: false });
  datasets.push({ data: toXY(p.k3), pointStyle: 'circle', pointRadius: 5.8, pointBackgroundColor: CIR_FILL, pointBorderColor: CIR_EDGE, pointBorderWidth: 1, order: 2, clip: false });
  if (p.m2) datasets.push({ data: toXY(p.m2), pointStyle: 'triangle', pointRadius: 7, pointBackgroundColor: '#fff', pointBorderColor: '#8ee88e', pointBorderWidth: 1, order: 1, clip: false });
  if (p.m1) datasets.push({ data: toXY(p.m1), pointStyle: 'rect', pointRadius: 9.4, pointBackgroundColor: '#fff', pointBorderColor: '#f04848', pointBorderWidth: 1.5, order: 1, clip: false });
  if (p.m3) datasets.push({ data: toXY(p.m3), pointStyle: 'circle', pointRadius: 6.2, pointBackgroundColor: '#fff', pointBorderColor: '#5a5aff', pointBorderWidth: 1, order: 1, clip: false });
  if (p.pole) datasets.push({ data: toXY(p.pole), pointStyle: 'circle', pointRadius: 6, pointBackgroundColor: 'rgba(0,0,0,0)', pointBorderColor: CYAN, pointBorderWidth: 1, order: 0, clip: false });

  return {
    type: 'scatter',
    data: { datasets },
    options: {
      animation: false,
      responsive: false,
      devicePixelRatio: 1,
      events: [],
      layout: { padding: { left: p.cx - R, top: p.cy - R, right: W - p.cx - R, bottom: H - p.cy - R } },
      scales: {
        x: { type: 'linear', min: -1, max: 1, display: false },
        y: { type: 'linear', min: -1, max: 1, display: false },
      },
      plugins: { legend: { display: false }, tooltip: { enabled: false } },
    },
    plugins: [makePlugin(p)],
  };
}

export default function App() {
  const refs = useRef<(HTMLCanvasElement | null)[]>([]);
  useEffect(() => {
    const charts = PANELS.map((p, i) => new Chart(refs.current[i] as HTMLCanvasElement, buildConfig(p)));
    return () => charts.forEach((c) => c.destroy());
  }, []);
  return (
    <div style={{ position: 'absolute', left: 0, top: 0, width: W, height: H, background: '#fff', overflow: 'hidden' }}>
      {PANELS.map((p, i) => (
        <canvas
          key={p.idx}
          ref={(el) => { refs.current[i] = el; }}
          width={W}
          height={H}
          style={{ position: 'absolute', left: 0, top: 0, width: W, height: H }}
        />
      ))}
    </div>
  );
}
